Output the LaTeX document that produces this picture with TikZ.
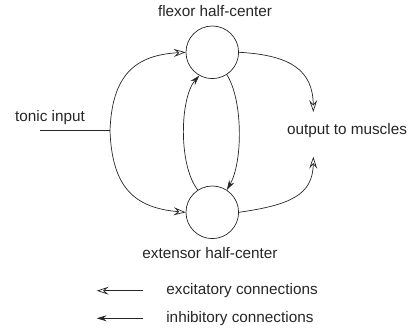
\documentclass[tikz,border=0pt]{standalone}
\usepackage{fontspec}
\setmainfont{Liberation Sans}
\usetikzlibrary{arrows.meta}
\begin{document}
\begin{tikzpicture}[x=1pt,y=-1pt,
  line width=0.7pt, color={black!85},
  half/.style={circle,draw,minimum size=52.6pt,inner sep=0pt},
  lbl/.style={inner sep=0pt,font=\fontsize{15.3}{18}\selectfont},
  exc/.style={-{Stealth[open,length=12pt,width=8pt,inset=4.5pt]}},
  inh/.style={-{Stealth[length=10pt,width=6pt,inset=3.5pt]}}]
\useasboundingbox (0,0) rectangle (409,331);
\node[half] (F) at (212.3,52.3) {};
\node[half] (E) at (212.3,212.3) {};
\node[lbl] (ft) at (215,11) {flexor half-center};
\node[lbl] (et) at (210,253) {extensor half-center};
\node[lbl] (ti) at (50,118) {tonic input};
\node[lbl] (om) at (347,131) {output to muscles};
\coordinate (tin) at (40,130.7);
\coordinate (br) at (110,130.7);
\coordinate (o1) at (313.3,112);
\coordinate (o2) at (313.3,156.7);
\draw (tin) -- (br);
\draw[exc] (br) .. controls (112,75) and (135,55) .. (F.west);
\draw[exc] (br) .. controls (112,188) and (135,208) .. (E.west);
\draw[inh] (E.123) .. controls (178,165) and (180,97) .. (F.241);
\draw[inh] (F.303) .. controls (243,100) and (243,162) .. (E.57);
\draw[exc] (F.east) .. controls (290,55) and (313,70) .. (o1);
\draw[exc] (E.east) .. controls (290,205) and (313,195) .. (o2);
\coordinate (l1s) at (143.3,290.7);
\coordinate (l1e) at (96.7,290.7);
\coordinate (l2s) at (143.3,318.3);
\coordinate (l2e) at (96.7,318.3);
\draw[exc] (l1s) -- (l1e);
\draw[inh] (l2s) -- (l2e);
\node[lbl,anchor=west] (ex) at (166,290.7) {excitatory connections};
\node[lbl,anchor=west] (in) at (166,318.3) {inhibitory connections};
\end{tikzpicture}
\end{document}
